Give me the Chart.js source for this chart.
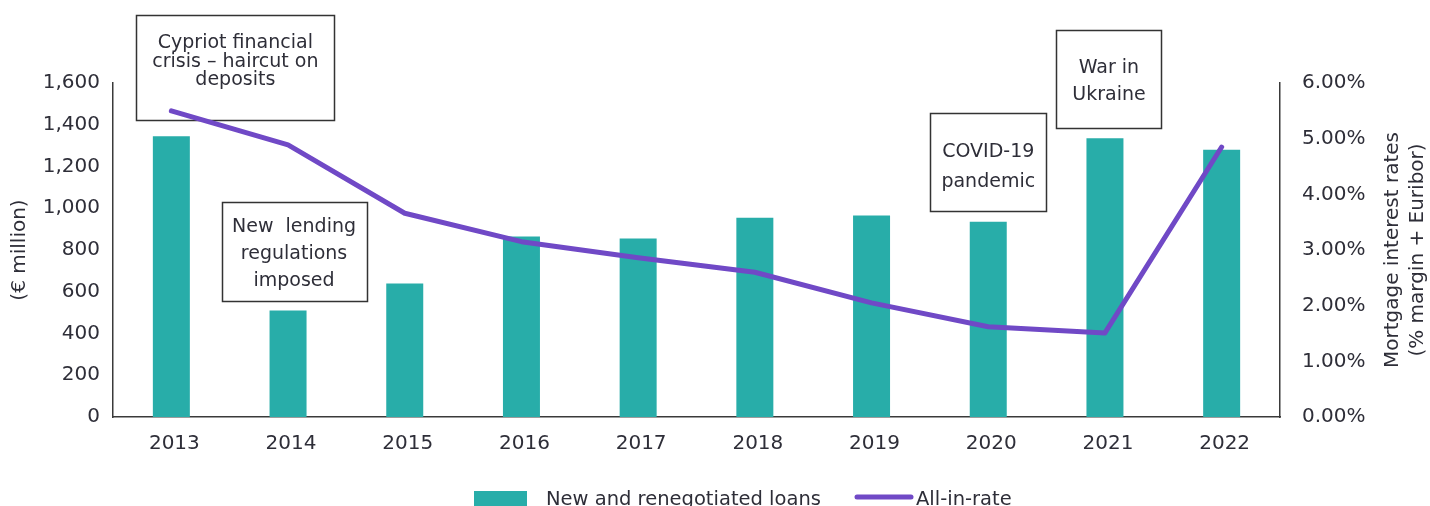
<!DOCTYPE html>
<html>
<head>
<meta charset="utf-8">
<script src="https://cdn.jsdelivr.net/npm/chart.js@4.4.1/dist/chart.umd.min.js"></script>
<style>
  html, body { margin: 0; padding: 0; background: #ffffff; }
  #wrap { width: 1430px; height: 506px; position: relative; }
</style>
</head>
<body>
<div id="wrap"><canvas id="chart" width="1430" height="506"></canvas></div>
<script>
// Categories and values
const years = ['2013', '2014', '2015', '2016', '2017', '2018', '2019', '2020', '2021', '2022'];
const loans = [1345, 510, 640, 865, 855, 955, 965, 935, 1335, 1280];      // € million
const allInRate = [5.50, 4.89, 3.66, 3.15, 2.86, 2.60, 2.05, 1.62, 1.51, 4.85]; // %

// Axis ticks
const loanTicks = [0, 200, 400, 600, 800, 1000, 1200, 1400, 1600];
const rateTicks = [0, 1, 2, 3, 4, 5, 6];

// Texts
const seriesNames = ['New and renegotiated loans', 'All-in-rate'];
const leftTitle = '(€ million)';
const rightTitle = ['Mortgage interest rates', '(% margin + Euribor)'];
const events = [
  ['Cypriot financial', 'crisis – haircut on', 'deposits'],
  ['New  lending', 'regulations', 'imposed'],
  ['COVID-19', 'pandemic'],
  ['War in', 'Ukraine']
];

const TEAL = '#28ADA9';
const PURPLE = '#7049C6';
const INK = '#2E2E38';
const AXIS = '#3A3A3A';
const FONT = '"DejaVu Sans", Verdana, sans-serif';

// Event boxes: anchored to a category, offsets and sizes in pixels
const eventBoxes = [
  { cat: 0, dx: 64,  w: 198, top: 15,  bottom: 120, baselines: [48, 67, 85] },
  { cat: 1, dx: 6,   w: 145, top: 202, bottom: 301, baselines: [232, 259, 286] },
  { cat: 7, dx: 0,   w: 116, top: 113, bottom: 211, baselines: [157, 187] },
  { cat: 8, dx: 4,   w: 105, top: 30,  bottom: 128, baselines: [73, 100] }
];

const eventPlugin = {
  id: 'eventBoxes',
  beforeDatasetsDraw(chart) {
    const ctx = chart.ctx;
    const xs = chart.scales.x;
    ctx.save();
    ctx.font = '19px ' + FONT;
    ctx.textAlign = 'center';
    ctx.textBaseline = 'alphabetic';
    eventBoxes.forEach((b, i) => {
      const cx = xs.getPixelForValue(b.cat) + b.dx;
      const left = Math.round(cx - b.w / 2) + 0.5;
      ctx.fillStyle = '#ffffff';
      ctx.fillRect(left, b.top + 0.5, b.w, b.bottom - b.top);
      ctx.strokeStyle = '#333333';
      ctx.lineWidth = 1.5;
      ctx.strokeRect(left, b.top + 0.5, b.w, b.bottom - b.top);
      ctx.fillStyle = INK;
      events[i].forEach((line, k) => ctx.fillText(line, cx, b.baselines[k]));
    });
    ctx.restore();
  }
};

const decorPlugin = {
  id: 'decor',
  afterDraw(chart) {
    const ctx = chart.ctx;
    const area = chart.chartArea;
    const midY = (area.top + area.bottom) / 2;
    ctx.save();
    ctx.fillStyle = INK;
    ctx.font = '20px ' + FONT;
    ctx.textAlign = 'center';
    ctx.textBaseline = 'middle';
    // left axis title
    ctx.save();
    ctx.translate(20, midY);
    ctx.rotate(-Math.PI / 2);
    ctx.fillText(leftTitle, 0, 0);
    ctx.restore();
    // right axis title, two lines
    ctx.save();
    ctx.translate(1393, midY);
    ctx.rotate(-Math.PI / 2);
    ctx.fillText(rightTitle[0], 0, 0);
    ctx.fillText(rightTitle[1], 0, 25);
    ctx.restore();

    // legend
    ctx.font = '19.5px ' + FONT;
    ctx.textAlign = 'left';
    ctx.textBaseline = 'alphabetic';
    ctx.fillStyle = TEAL;
    ctx.fillRect(474, 491, 53, 15);
    ctx.fillStyle = INK;
    ctx.fillText(seriesNames[0], 546, 505);
    ctx.strokeStyle = PURPLE;
    ctx.lineWidth = 5;
    ctx.lineCap = 'round';
    ctx.beginPath();
    ctx.moveTo(857, 497);
    ctx.lineTo(911, 497);
    ctx.stroke();
    ctx.fillText(seriesNames[1], 916, 505);
    ctx.restore();
  }
};

new Chart(document.getElementById('chart'), {
  data: {
    labels: years,
    datasets: [
      {
        type: 'line',
        label: seriesNames[1],
        data: allInRate,
        yAxisID: 'y1',
        borderColor: PURPLE,
        borderWidth: 5,
        borderCapStyle: 'round',
        borderJoinStyle: 'round',
        pointRadius: 0,
        tension: 0,
        order: 0
      },
      {
        type: 'bar',
        label: seriesNames[0],
        data: loans,
        yAxisID: 'y',
        backgroundColor: TEAL,
        categoryPercentage: 1,
        barPercentage: 0.317,
        order: 1
      }
    ]
  },
  options: {
    responsive: false,
    animation: false,
    layout: { padding: { top: 83, left: 0, right: 0, bottom: 0 } },
    plugins: { legend: { display: false }, tooltip: { enabled: false } },
    scales: {
      x: {
        grid: { display: false, drawTicks: false },
        border: { display: true, color: AXIS, width: 1.5 },
        ticks: { color: INK, font: { family: FONT, size: 20 }, padding: 15, labelOffset: 3, maxRotation: 0 },
        afterFit(s) { s.height = 89; }
      },
      y: {
        position: 'left',
        min: 0, max: 1600,
        grid: { display: false, drawTicks: false },
        border: { display: true, color: AXIS, width: 1.5 },
        afterBuildTicks(s) { s.ticks = loanTicks.map(v => ({ value: v })); },
        ticks: {
          color: INK, font: { family: FONT, size: 20 }, padding: 13,
          callback: v => v.toLocaleString('en-US')
        },
        afterFit(s) { s.width = 113; }
      },
      y1: {
        position: 'right',
        min: 0, max: 6,
        grid: { display: false, drawTicks: false },
        border: { display: true, color: AXIS, width: 1.5 },
        afterBuildTicks(s) { s.ticks = rateTicks.map(v => ({ value: v })); },
        ticks: {
          color: INK, font: { family: FONT, size: 20 }, padding: 22,
          callback: v => v.toFixed(2) + '%'
        },
        afterFit(s) { s.width = 150; }
      }
    }
  },
  plugins: [eventPlugin, decorPlugin]
});
</script>
</body>
</html>
